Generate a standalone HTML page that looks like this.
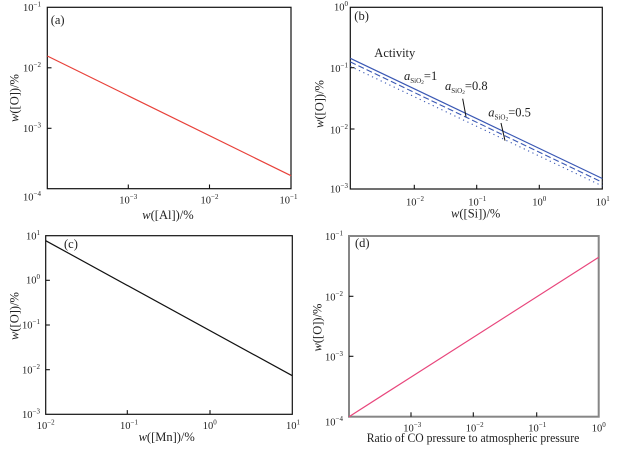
<!DOCTYPE html>
<html><head><meta charset="utf-8"><style>
html,body{margin:0;padding:0;background:#fff;}
svg{display:block;}
text{font-family:"Liberation Serif",serif;fill:#222;}
.t{font-size:10.5px;}
.s{font-size:7px;}
.lab{font-size:12.5px;}
</style></head><body>
<svg width="621" height="457" viewBox="0 0 621 457" xmlns="http://www.w3.org/2000/svg">
<rect width="621" height="457" fill="#fff"/>

<!-- Panel (a) -->
<rect x="47.3" y="7.3" width="243.7" height="181.4" fill="none" stroke="#111" stroke-width="1.2"/>
<g stroke="#111" stroke-width="1.1">
<line x1="128.3" y1="188.7" x2="128.3" y2="184.5"/>
<line x1="209.5" y1="188.7" x2="209.5" y2="184.5"/>
<line x1="47.3" y1="67.8" x2="51.5" y2="67.8"/>
<line x1="47.3" y1="128.3" x2="51.5" y2="128.3"/>
</g>
<line x1="47.3" y1="56" x2="291" y2="175.7" stroke="#e8413a" stroke-width="1.2"/>
<g text-anchor="end">
<text class="t" x="41" y="11">10<tspan class="s" dy="-4.5">−1</tspan></text>
<text class="t" x="41" y="71.5">10<tspan class="s" dy="-4.5">−2</tspan></text>
<text class="t" x="41" y="132">10<tspan class="s" dy="-4.5">−3</tspan></text>
<text class="t" x="41" y="200.5">10<tspan class="s" dy="-4.5">−4</tspan></text>
</g>
<text class="t" x="119.3" y="203.5">10<tspan class="s" dy="-4.5">−3</tspan></text>
<text class="t" x="200.5" y="203.5">10<tspan class="s" dy="-4.5">−2</tspan></text>
<text class="t" x="279.5" y="203.5">10<tspan class="s" dy="-4.5">−1</tspan></text>
<text class="lab" x="168" y="219" text-anchor="middle"><tspan font-style="italic">w</tspan>([Al])/%</text>
<text class="lab" transform="translate(18.5,98) rotate(-90)" text-anchor="middle"><tspan font-style="italic">w</tspan>([O])/%</text>
<text class="lab" x="50.7" y="24">(a)</text>

<!-- Panel (b) -->
<rect x="350.3" y="7.3" width="252" height="181.7" fill="none" stroke="#111" stroke-width="1.2"/>
<g stroke="#111" stroke-width="1.1">
<line x1="414.3" y1="189" x2="414.3" y2="184.8"/>
<line x1="476.7" y1="189" x2="476.7" y2="184.8"/>
<line x1="539.3" y1="189" x2="539.3" y2="184.8"/>
<line x1="350.3" y1="67.7" x2="354.5" y2="67.7"/>
<line x1="350.3" y1="129" x2="354.5" y2="129"/>
</g>
<line x1="350.3" y1="58.3" x2="602.3" y2="178.5" stroke="#3a58b4" stroke-width="1.2"/>
<line x1="350.3" y1="61.9" x2="602.3" y2="182.3" stroke="#3a58b4" stroke-width="1.1" stroke-dasharray="6,3"/>
<line x1="350.3" y1="66.3" x2="602.3" y2="186" stroke="#3a58b4" stroke-width="1.1" stroke-dasharray="1.2,3.6"/>
<g text-anchor="end">
<text class="t" x="348" y="10.5">10<tspan class="s" dy="-4.5">0</tspan></text>
<text class="t" x="348" y="72">10<tspan class="s" dy="-4.5">−1</tspan></text>
<text class="t" x="348" y="133.5">10<tspan class="s" dy="-4.5">−2</tspan></text>
<text class="t" x="348" y="192.5">10<tspan class="s" dy="-4.5">−3</tspan></text>
</g>
<text class="t" x="406" y="205.5">10<tspan class="s" dy="-4.5">−2</tspan></text>
<text class="t" x="468.3" y="205.5">10<tspan class="s" dy="-4.5">−1</tspan></text>
<text class="t" x="532.3" y="205.5">10<tspan class="s" dy="-4.5">0</tspan></text>
<text class="t" x="595.7" y="205.5">10<tspan class="s" dy="-4.5">1</tspan></text>
<text class="lab" x="475.7" y="217.5" text-anchor="middle"><tspan font-style="italic">w</tspan>([Si])/%</text>
<text class="lab" transform="translate(323.5,104) rotate(-90)" text-anchor="middle"><tspan font-style="italic">w</tspan>([O])/%</text>
<text class="lab" x="354.3" y="20">(b)</text>
<text class="lab" x="374.3" y="57">Activity</text>
<text class="lab" x="404" y="80"><tspan font-style="italic">a</tspan><tspan class="s" dy="3">SiO</tspan><tspan font-size="5.5" dy="1">2</tspan><tspan dy="-4">=1</tspan></text>
<text class="lab" x="445" y="90"><tspan font-style="italic">a</tspan><tspan class="s" dy="3">SiO</tspan><tspan font-size="5.5" dy="1">2</tspan><tspan dy="-4">=0.8</tspan></text>
<text class="lab" x="488.3" y="116.5"><tspan font-style="italic">a</tspan><tspan class="s" dy="3">SiO</tspan><tspan font-size="5.5" dy="1">2</tspan><tspan dy="-4">=0.5</tspan></text>
<line x1="462.7" y1="98.7" x2="466" y2="116.7" stroke="#111" stroke-width="1"/>
<line x1="501" y1="123" x2="505" y2="140.7" stroke="#111" stroke-width="1"/>

<!-- Panel (c) -->
<rect x="45.7" y="235.7" width="246.6" height="178.6" fill="none" stroke="#111" stroke-width="1.2"/>
<g stroke="#111" stroke-width="1.1">
<line x1="127.3" y1="414.3" x2="127.3" y2="410.1"/>
<line x1="210" y1="414.3" x2="210" y2="410.1"/>
<line x1="45.7" y1="280.3" x2="49.9" y2="280.3"/>
<line x1="45.7" y1="325" x2="49.9" y2="325"/>
<line x1="45.7" y1="369.7" x2="49.9" y2="369.7"/>
</g>
<line x1="45.7" y1="240.7" x2="292.3" y2="375.7" stroke="#111" stroke-width="1.2"/>
<g text-anchor="end">
<text class="t" x="40" y="239.5">10<tspan class="s" dy="-4.5">1</tspan></text>
<text class="t" x="40" y="283.5">10<tspan class="s" dy="-4.5">0</tspan></text>
<text class="t" x="40" y="328.5">10<tspan class="s" dy="-4.5">−1</tspan></text>
<text class="t" x="40" y="373.5">10<tspan class="s" dy="-4.5">−2</tspan></text>
<text class="t" x="40" y="418">10<tspan class="s" dy="-4.5">−3</tspan></text>
</g>
<text class="t" x="36.7" y="429">10<tspan class="s" dy="-4.5">−2</tspan></text>
<text class="t" x="120" y="429">10<tspan class="s" dy="-4.5">−1</tspan></text>
<text class="t" x="202.7" y="429">10<tspan class="s" dy="-4.5">0</tspan></text>
<text class="t" x="286" y="429">10<tspan class="s" dy="-4.5">1</tspan></text>
<text class="lab" x="166.7" y="441" text-anchor="middle"><tspan font-style="italic">w</tspan>([Mn])/%</text>
<text class="lab" transform="translate(18.5,316) rotate(-90)" text-anchor="middle"><tspan font-style="italic">w</tspan>([O])/%</text>
<text class="lab" x="64" y="248">(c)</text>

<!-- Panel (d) -->
<rect x="349" y="236" width="249.7" height="180.7" fill="none" stroke="#868686" stroke-width="2"/>
<g stroke="#111" stroke-width="1.1">
<line x1="411" y1="416.7" x2="411" y2="412.3"/>
<line x1="473.3" y1="416.7" x2="473.3" y2="412.3"/>
<line x1="536.7" y1="416.7" x2="536.7" y2="412.3"/>
<line x1="349" y1="296.3" x2="353.4" y2="296.3"/>
<line x1="349" y1="356.3" x2="353.4" y2="356.3"/>
</g>
<line x1="349" y1="416.7" x2="598.7" y2="257.3" stroke="#e8467c" stroke-width="1.2"/>
<g text-anchor="end">
<text class="t" x="343" y="240">10<tspan class="s" dy="-4.5">−1</tspan></text>
<text class="t" x="343" y="300.5">10<tspan class="s" dy="-4.5">−2</tspan></text>
<text class="t" x="343" y="360.5">10<tspan class="s" dy="-4.5">−3</tspan></text>
<text class="t" x="343" y="425.5">10<tspan class="s" dy="-4.5">−4</tspan></text>
</g>
<text class="t" x="403.3" y="431.5">10<tspan class="s" dy="-4.5">−3</tspan></text>
<text class="t" x="465.7" y="431.5">10<tspan class="s" dy="-4.5">−2</tspan></text>
<text class="t" x="528.3" y="431.5">10<tspan class="s" dy="-4.5">−1</tspan></text>
<text class="t" x="591.7" y="431.5">10<tspan class="s" dy="-4.5">0</tspan></text>
<text class="lab" x="366.7" y="442" textLength="212.6" lengthAdjust="spacingAndGlyphs">Ratio of CO pressure to atmospheric pressure</text>
<text class="lab" transform="translate(321.5,327.5) rotate(-90)" text-anchor="middle"><tspan font-style="italic">w</tspan>([O])/%</text>
<text class="lab" x="355" y="247">(d)</text>
</svg>
</body></html>
